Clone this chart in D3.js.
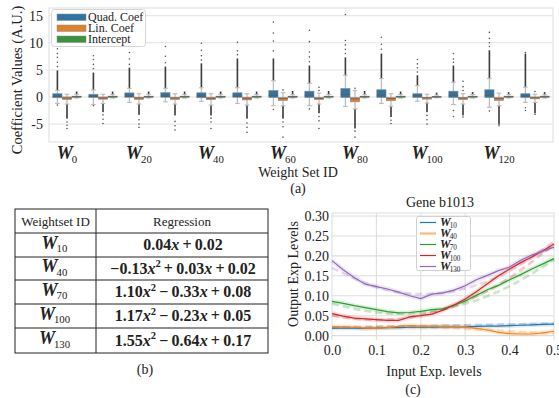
<!DOCTYPE html>
<html>
<head>
<meta charset="utf-8">
<script src="https://cdn.jsdelivr.net/npm/d3@7"></script>
<style>
  body { margin: 0; background: #fff; }
  svg text { font-family: "Liberation Serif", "Times New Roman", serif; fill: #222; }
</style>
</head>
<body>
<svg id="fig" width="559" height="398" font-family="Liberation Serif"></svg>
<script>
// ---------- data: (a) coefficient boxplots ----------
const weightSets = [0, 10, 20, 30, 40, 50, 60, 70, 80, 90, 100, 110, 120, 130];
const weightTicks = [0, 20, 40, 60, 80, 100, 120];
const coefNames = ['Quad. Coef', 'Lin. Coef', 'Intercept'];
const coefTicks = [-5, 0, 5, 10, 15];

const quadQ1 = [-0.15, -0.1, -0.05, -0.05, -0.15, -0.05, -0.1, -0.1, -0.1, -0.1, -0.1, -0.1, -0.1, -0.1];
const quadMed = [0.1, 0.1, 0.15, 0.15, 0.15, 0.15, 0.3, 0.3, 0.45, 0.35, 0.2, 0.3, 0.35, 0.15];
const quadQ3 = [0.6, 0.5, 0.75, 0.8, 0.77, 0.77, 1.2, 1.07, 1.57, 1.33, 0.6, 1.07, 1.33, 0.6];
const quadLo = [-1.2, -1.4, -1.0, -0.9, -0.8, -1.2, -1.6, -1.6, -1.75, -1.2, -0.8, -1.4, -1.9, -1.0];
const quadHi = [1.2, 1.3, 1.6, 1.6, 1.7, 1.7, 3.0, 2.5, 4.0, 3.4, 2.1, 2.7, 3.4, 1.8];
const quadDenseLo = [-1.2, -1.4, -1.0, -0.9, -0.8, -1.2, -1.6, -1.6, -1.75, -1.2, -0.8, -1.4, -1.9, -1.0];
const quadDenseHi = [4.9, 4.5, 5.4, 5.6, 6.2, 7.1, 7.1, 5.8, 7.3, 8.0, 4.0, 5.8, 8.6, 8.0];
const quadOutliers = [
  [5.6, 6.4, 7.3, 8.0, 8.9, -1.5], [5.2, 6.0, 6.9, 7.6, -1.6], [6.0, 7.0, 8.2, 9.4],
  [6.3, 7.5, 9.3], [6.8, 7.6, 8.6, 9.9], [7.8, 8.5, 10.1], [8.5, 10.3, 11.8, 13.8, -2.3],
  [6.5, 7.4, 8.3, 10.2, 12.3, -2.2], [8.0, 8.8, 9.6, 10.4, 15.2], [8.8, 9.7, 11.0],
  [4.6, 5.4, 6.1, 6.9], [6.4, 7.0, 8.0, -2.5, -3.6], [9.3, 10.0, 10.8, 11.9, -2.6], [8.2, -2.0, -2.5]
];

const linQ1 = [-0.45, -0.4, -0.45, -0.45, -0.5, -0.55, -0.65, -0.5, -0.9, -0.7, -0.4, -0.5, -0.65, -0.35];
const linMed = [-0.2, -0.2, -0.2, -0.2, -0.25, -0.25, -0.3, -0.25, -0.35, -0.3, -0.15, -0.2, -0.3, -0.15];
const linQ3 = [0, 0, -0.05, -0.05, -0.05, -0.05, -0.1, -0.1, -0.1, -0.1, -0.1, -0.1, -0.1, 0];
const linLo = [-1.3, -1.2, -1.3, -1.3, -1.5, -1.5, -1.6, -1.3, -2.2, -1.7, -1.1, -1.3, -1.6, -1.0];
const linHi = [0.5, 0.5, 0.6, 0.6, 0.6, 0.6, 0.8, 0.7, 1.2, 0.6, 0.5, 0.6, 0.7, 0.5];
const linDenseLo = [-4.0, -2.8, -3.3, -3.4, -3.4, -4.0, -4.0, -3.0, -5.8, -3.7, -2.8, -3.4, -5.1, -3.0];
const linDenseHi = [0.5, 0.5, 0.6, 0.6, 0.6, 0.6, 0.8, 0.7, 1.2, 0.6, 0.5, 0.6, 0.7, 0.5];
const linOutliers = [
  [-4.6, -5.2, -5.8], [-3.3, -4.1, -4.9], [-4.2, -5.0, -5.6], [-4.5, -5.3, -6.1],
  [-3.9, -4.6, -5.8], [-4.8, -5.6, -6.5], [-4.6, -5.5, -7.4, 1.3], [-3.6, -4.4, -5.8, 1.2, 1.8],
  [-6.3, -7.4, 1.6], [-4.3, -4.9], [-3.4, -4.2, -5.0], [-3.7, 1.2, 1.9, 2.9], [-5.3], [-3.2, 1.0]
];

const icptQ1 = [0, 0, 0, 0, 0, 0, 0, 0, 0, 0, 0, 0, 0, 0];
const icptMed = [0.05, 0.05, 0.05, 0.05, 0.05, 0.05, 0.05, 0.05, 0.05, 0.05, 0.05, 0.05, 0.05, 0.05];
const icptQ3 = [0.15, 0.15, 0.15, 0.15, 0.15, 0.15, 0.15, 0.15, 0.15, 0.15, 0.12, 0.15, 0.15, 0.15];
const icptLo = [-0.2, -0.2, -0.2, -0.2, -0.2, -0.2, -0.2, -0.2, -0.2, -0.2, -0.15, -0.2, -0.2, -0.2];
const icptHi = [0.45, 0.45, 0.45, 0.45, 0.45, 0.45, 0.45, 0.45, 0.45, 0.45, 0.35, 0.45, 0.45, 0.4];
const icptDenseLo = [-0.2, -0.2, -0.2, -0.2, -0.2, -0.2, -0.2, -0.2, -0.2, -0.2, -0.15, -0.2, -0.2, -0.2];
const icptDenseHi = [1.0, 1.0, 1.0, 1.0, 1.0, 1.0, 1.1, 1.1, 1.1, 1.0, 0.8, 0.9, 0.9, 0.9];

// ---------- data: (b) regression table ----------
const tableIds = [10, 40, 70, 100, 130];
const quadCoef = [null, -0.13, 1.10, 1.17, 1.55];
const linCoef = [0.04, 0.03, -0.33, -0.23, -0.64];
const constCoef = [0.02, 0.02, 0.08, 0.05, 0.17];

// ---------- data: (c) Gene b1013 ----------
const inputLevels = [0, 0.025, 0.05, 0.075, 0.1, 0.125, 0.15, 0.175, 0.2, 0.225, 0.25,
                     0.275, 0.3, 0.325, 0.35, 0.375, 0.4, 0.425, 0.45, 0.475, 0.5];
const outW10 = [0.019, 0.019, 0.019, 0.018, 0.019, 0.020, 0.020, 0.021, 0.021, 0.021, 0.022,
                0.022, 0.022, 0.023, 0.024, 0.024, 0.025, 0.026, 0.027, 0.028, 0.029];
const outW40 = [0.022, 0.022, 0.021, 0.019, 0.019, 0.020, 0.023, 0.025, 0.024, 0.024, 0.023,
                0.023, 0.022, 0.018, 0.014, 0.008, 0.005, 0.004, 0.004, 0.007, 0.011];
const outW70 = [0.086, 0.081, 0.075, 0.070, 0.065, 0.060, 0.057, 0.058, 0.061, 0.065, 0.067,
                0.076, 0.087, 0.101, 0.115, 0.126, 0.140, 0.153, 0.167, 0.180, 0.193];
const outW100 = [0.055, 0.049, 0.044, 0.042, 0.040, 0.038, 0.038, 0.047, 0.050, 0.054, 0.064,
                 0.077, 0.092, 0.110, 0.130, 0.150, 0.167, 0.183, 0.197, 0.213, 0.230];
const outW130 = [0.188, 0.165, 0.146, 0.129, 0.123, 0.117, 0.109, 0.100, 0.093, 0.104, 0.107,
                 0.114, 0.125, 0.140, 0.151, 0.163, 0.172, 0.189, 0.202, 0.212, 0.222];
// fitted curves (dashed), read at coarse steps
const fitLevels = [0, 0.1, 0.2, 0.3, 0.4, 0.5];
const fitW10 = [0.020, 0.022, 0.024, 0.026, 0.028, 0.030];
const fitW40 = [0.020, 0.022, 0.021, 0.017, 0.011, 0.005];
const fitW70 = [0.080, 0.058, 0.058, 0.080, 0.124, 0.190];
const fitW100 = [0.050, 0.039, 0.051, 0.086, 0.145, 0.228];
const fitW130 = [0.170, 0.122, 0.104, 0.118, 0.162, 0.236];
const outTicksX = [0, 0.1, 0.2, 0.3, 0.4, 0.5];
const outTicksY = [0, 0.05, 0.1, 0.15, 0.2, 0.25, 0.3];

const svg = d3.select('#fig');
svg.append('rect').attr('width', 559).attr('height', 398).attr('fill', '#fff');

// W with subscript
function wText(sel, n, size) {
  sel.append('tspan').attr('font-weight', 'bold').attr('font-style', 'italic')
    .attr('font-size', size).text('W');
  sel.append('tspan').attr('font-size', size * 0.6).attr('dx', -1).attr('dy', size * 0.2).text(n);
}

// ================= (a) =================
const xa = d3.scaleBand().domain(weightSets).range([49, 553]);
const hue = d3.scaleBand().domain(coefNames)
  .range([xa.bandwidth() * 0.1, xa.bandwidth() * 0.9]);
const ya = d3.scaleLinear().domain([-8.3, 16.4]).range([142, 8]);
const coefColors = ['#3274a1', '#e1812c', '#3a923a'];

const ga = svg.append('g');
ga.selectAll('line.grid').data(coefTicks).join('line')
  .attr('x1', 49).attr('x2', 553)
  .attr('y1', d => ya(d)).attr('y2', d => ya(d))
  .attr('stroke', '#e8e8e8').attr('stroke-width', 1.3);
ga.append('rect').attr('x', 49).attr('y', 8).attr('width', 504).attr('height', 134)
  .attr('fill', 'none').attr('stroke', '#e3e3e3').attr('stroke-width', 1.2);

const yAxisA = ga.append('g').attr('transform', 'translate(49,0)')
  .call(d3.axisLeft(ya).tickValues(coefTicks).tickSize(0).tickPadding(6).tickFormat(d => String(d)));
yAxisA.select('.domain').remove();
yAxisA.attr('font-family', null);
yAxisA.selectAll('text').attr('font-size', 14).attr('fill', '#222');

const stats = [
  [quadQ1, quadMed, quadQ3, quadLo, quadHi, quadDenseLo, quadDenseHi, quadOutliers],
  [linQ1, linMed, linQ3, linLo, linHi, linDenseLo, linDenseHi, linOutliers],
  [icptQ1, icptMed, icptQ3, icptLo, icptHi, icptDenseLo, icptDenseHi, null]
];
const boxes = [];
stats.forEach((st, s) => {
  weightSets.forEach((w, i) => {
    boxes.push({
      s, w, q1: st[0][i], med: st[1][i], q3: st[2][i], lo: st[3][i], hi: st[4][i],
      dLo: st[5][i], dHi: st[6][i], out: st[7] ? st[7][i] : []
    });
  });
});
const bw = hue.bandwidth() * 0.96;
const bx = d => xa(d.w) + hue(coefNames[d.s]) + (hue.bandwidth() - bw) / 2;
const cx = d => xa(d.w) + hue(coefNames[d.s]) + hue.bandwidth() / 2;

const bg = ga.selectAll('g.box').data(boxes).join('g');
// dense flier runs
bg.append('rect').attr('x', d => cx(d) - 0.8).attr('width', 1.6)
  .attr('y', d => ya(d.dHi)).attr('height', d => Math.max(0, ya(d.hi) - ya(d.dHi)))
  .attr('fill', '#3a3a3a');
bg.append('rect').attr('x', d => cx(d) - 0.8).attr('width', 1.6)
  .attr('y', d => ya(d.lo)).attr('height', d => Math.max(0, ya(d.dLo) - ya(d.lo)))
  .attr('fill', '#3a3a3a');
// sparse fliers
bg.selectAll('circle').data(d => d.out.map(v => ({ v, d }))).join('circle')
  .attr('cx', o => cx(o.d)).attr('cy', o => ya(o.v)).attr('r', 0.8).attr('fill', '#555');
// whiskers and caps
bg.append('line').attr('x1', cx).attr('x2', cx).attr('y1', d => ya(d.hi)).attr('y2', d => ya(d.q3))
  .attr('stroke', '#bdbdbd').attr('stroke-width', 1.3);
bg.append('line').attr('x1', cx).attr('x2', cx).attr('y1', d => ya(d.q1)).attr('y2', d => ya(d.lo))
  .attr('stroke', '#bdbdbd').attr('stroke-width', 1.3);
bg.append('line').attr('x1', d => cx(d) - bw / 4).attr('x2', d => cx(d) + bw / 4)
  .attr('y1', d => ya(d.hi)).attr('y2', d => ya(d.hi)).attr('stroke', '#bdbdbd').attr('stroke-width', 1.2);
bg.append('line').attr('x1', d => cx(d) - bw / 4).attr('x2', d => cx(d) + bw / 4)
  .attr('y1', d => ya(d.lo)).attr('y2', d => ya(d.lo)).attr('stroke', '#bdbdbd').attr('stroke-width', 1.2);
// boxes
bg.append('rect').attr('x', bx).attr('width', bw)
  .attr('y', d => ya(d.q3)).attr('height', d => Math.max(1.2, ya(d.q1) - ya(d.q3)))
  .attr('fill', d => coefColors[d.s]).attr('stroke', '#8a8a8a').attr('stroke-width', 0.6);
bg.append('line').attr('x1', bx).attr('x2', d => bx(d) + bw)
  .attr('y1', d => ya(d.med)).attr('y2', d => ya(d.med))
  .attr('stroke', '#5a5a5a').attr('stroke-width', 0.8);

// x tick labels
ga.selectAll('text.xt').data(weightTicks).join('text')
  .attr('x', d => xa(d) + xa.bandwidth() / 2).attr('y', 159).attr('text-anchor', 'middle')
  .each(function (d) { wText(d3.select(this), d, 18); });
ga.append('text').attr('x', 298).attr('y', 177).attr('text-anchor', 'middle')
  .attr('font-size', 14).text('Weight Set ID');
ga.append('text').attr('x', 298).attr('y', 193).attr('text-anchor', 'middle')
  .attr('font-size', 14).text('(a)');
ga.append('text').attr('transform', 'translate(22,80) rotate(-90)').attr('text-anchor', 'middle')
  .attr('font-size', 14.5).text('Coefficient Values (A.U.)');

// legend (a)
const la = ga.append('g');
la.append('rect').attr('x', 51.5).attr('y', 9.5).attr('width', 94).attr('height', 37).attr('rx', 3)
  .attr('fill', '#fff').attr('fill-opacity', 0.85).attr('stroke', '#d6d6d6');
coefNames.forEach((n, k) => {
  la.append('rect').attr('x', 57).attr('y', 14 + k * 11).attr('width', 29).attr('height', 6.5)
    .attr('fill', coefColors[k]).attr('stroke', '#8a8a8a').attr('stroke-width', 0.5);
  la.append('text').attr('x', 88).attr('y', 21 + k * 11).attr('font-size', 12).text(n);
});

// ================= (b) table =================
const gb = svg.append('g');
const tLeft = 15, tRight = 268, tMid = 96;
const rowY = [209, 233, 257, 280, 304, 328, 353];
gb.append('rect').attr('x', tLeft).attr('y', rowY[0]).attr('width', tRight - tLeft)
  .attr('height', rowY[6] - rowY[0]).attr('fill', 'none').attr('stroke', '#222').attr('stroke-width', 1);
gb.selectAll('line.row').data(rowY.slice(1, 6)).join('line')
  .attr('x1', tLeft).attr('x2', tRight).attr('y1', d => d).attr('y2', d => d)
  .attr('stroke', '#222').attr('stroke-width', 1);
gb.append('line').attr('x1', tMid).attr('x2', tMid).attr('y1', rowY[0]).attr('y2', rowY[6])
  .attr('stroke', '#222').attr('stroke-width', 1);
gb.append('text').attr('x', (tLeft + tMid) / 2).attr('y', 225.5).attr('text-anchor', 'middle')
  .attr('font-size', 13).text('Weightset ID');
gb.append('text').attr('x', (tMid + tRight) / 2).attr('y', 225.5).attr('text-anchor', 'middle')
  .attr('font-size', 13).text('Regression');

// builds one term of the polynomial; returns the dy still owed to the baseline
function term(sel, c, first, pow, owed) {
  const sign = c < 0 ? '\u2212' : '+';
  const txt = first ? (c < 0 ? '\u2212' : '') + Math.abs(c).toFixed(2)
                    : '\u2009' + sign + '\u2009' + Math.abs(c).toFixed(2);
  sel.append('tspan').attr('dy', owed || null).text(txt);
  if (pow >= 1) sel.append('tspan').attr('font-style', 'italic').text('x');
  if (pow === 2) {
    sel.append('tspan').attr('font-size', 10.5).attr('dy', -6.5).text('2');
    return 6.5;
  }
  return 0;
}
tableIds.forEach((id, r) => {
  const yb = (rowY[r + 1] + rowY[r + 2]) / 2 + 5;
  gb.append('text').attr('x', (tLeft + tMid) / 2 - 1).attr('y', yb - 1.5).attr('text-anchor', 'middle')
    .call(s => wText(s, id, 18));
  const t = gb.append('text').attr('x', (tMid + tRight) / 2 + 1).attr('y', yb).attr('text-anchor', 'middle')
    .attr('font-size', 16).attr('font-weight', 'bold');
  let first = true, owed = 0;
  if (quadCoef[r] !== null) { owed = term(t, quadCoef[r], first, 2, owed); first = false; }
  owed = term(t, linCoef[r], first, 1, owed); first = false;
  term(t, constCoef[r], first, 0, owed);
});
gb.append('text').attr('x', 145).attr('y', 374).attr('text-anchor', 'middle')
  .attr('font-size', 14).text('(b)');

// ================= (c) =================
const gc = svg.append('g');
const xc = d3.scaleLinear().domain([0, 0.5]).range([332, 554]);
const yc = d3.scaleLinear().domain([-0.011, 0.3075]).range([340, 213]);
gc.selectAll('line.vg').data(outTicksX).join('line')
  .attr('x1', d => xc(d)).attr('x2', d => xc(d)).attr('y1', 213).attr('y2', 340)
  .attr('stroke', '#dedede').attr('stroke-width', 1.1);
gc.selectAll('line.hg').data(outTicksY).join('line')
  .attr('x1', 332).attr('x2', 554).attr('y1', d => yc(d)).attr('y2', d => yc(d))
  .attr('stroke', '#dedede').attr('stroke-width', 1.1);
gc.append('line').attr('x1', 332).attr('x2', 554).attr('y1', 213).attr('y2', 213)
  .attr('stroke', '#dedede').attr('stroke-width', 1.1);

const xAxisC = gc.append('g').attr('transform', 'translate(0,340)')
  .call(d3.axisBottom(xc).tickValues(outTicksX).tickSize(0).tickPadding(5).tickFormat(d3.format('.1f')));
xAxisC.select('.domain').remove();
xAxisC.attr('font-family', null);
xAxisC.selectAll('text').attr('font-size', 14).attr('fill', '#222');
const yAxisC = gc.append('g').attr('transform', 'translate(332,0)')
  .call(d3.axisLeft(yc).tickValues(outTicksY).tickSize(0).tickPadding(3).tickFormat(d3.format('.2f')));
yAxisC.select('.domain').remove();
yAxisC.attr('font-family', null);
yAxisC.selectAll('text').attr('font-size', 14).attr('fill', '#222');

const lineColors = ['#1f77b4', '#ff7f0e', '#2ca02c', '#d62728', '#9467bd'];
const outputs = [outW10, outW40, outW70, outW100, outW130];
const fits = [fitW10, fitW40, fitW70, fitW100, fitW130];
const line = d3.line().x(d => xc(d[0])).y(d => yc(d[1]));
const fitLine = d3.line().curve(d3.curveNatural).x(d => xc(d[0])).y(d => yc(d[1]));

outputs.forEach((ys, k) => {
  const pts = inputLevels.map((x, i) => [x, ys[i]]);
  gc.append('path').attr('d', line(pts)).attr('fill', 'none')
    .attr('stroke', lineColors[k]).attr('stroke-opacity', 0.16).attr('stroke-width', 4.5);
});
fits.forEach((ys, k) => {
  const pts = fitLevels.map((x, i) => [x, ys[i]]);
  gc.append('path').attr('d', fitLine(pts)).attr('fill', 'none')
    .attr('stroke', lineColors[k]).attr('stroke-opacity', 0.25).attr('stroke-width', 2.6)
    .attr('stroke-dasharray', '7,4');
});
outputs.forEach((ys, k) => {
  const pts = inputLevels.map((x, i) => [x, ys[i]]);
  gc.append('path').attr('d', line(pts)).attr('fill', 'none')
    .attr('stroke', lineColors[k]).attr('stroke-width', 1.2);
});

gc.append('text').attr('x', 440).attr('y', 207).attr('text-anchor', 'middle')
  .attr('font-size', 14).text('Gene b1013');
gc.append('text').attr('x', 434).attr('y', 376).attr('text-anchor', 'middle')
  .attr('font-size', 14).text('Input Exp. levels');
gc.append('text').attr('x', 413).attr('y', 394).attr('text-anchor', 'middle')
  .attr('font-size', 14).text('(c)');
gc.append('text').attr('transform', 'translate(298,274) rotate(-90)').attr('text-anchor', 'middle')
  .attr('font-size', 14).text('Output Exp Levels');

// legend (c)
const lc = gc.append('g');
lc.append('rect').attr('x', 416.5).attr('y', 216.5).attr('width', 54).attr('height', 54).attr('rx', 2)
  .attr('fill', '#fff').attr('fill-opacity', 0.85).attr('stroke', '#d0d0d0');
tableIds.forEach((id, k) => {
  const yy = 222.5 + k * 11;
  lc.append('line').attr('x1', 420).attr('x2', 436).attr('y1', yy).attr('y2', yy)
    .attr('stroke', lineColors[k]).attr('stroke-width', k === 1 ? 2.2 : 1.2)
    .attr('stroke-opacity', k === 1 ? 0.55 : 1);
  lc.append('text').attr('x', 440).attr('y', yy + 3).call(s => wText(s, id, 12));
});
</script>
</body>
</html>
